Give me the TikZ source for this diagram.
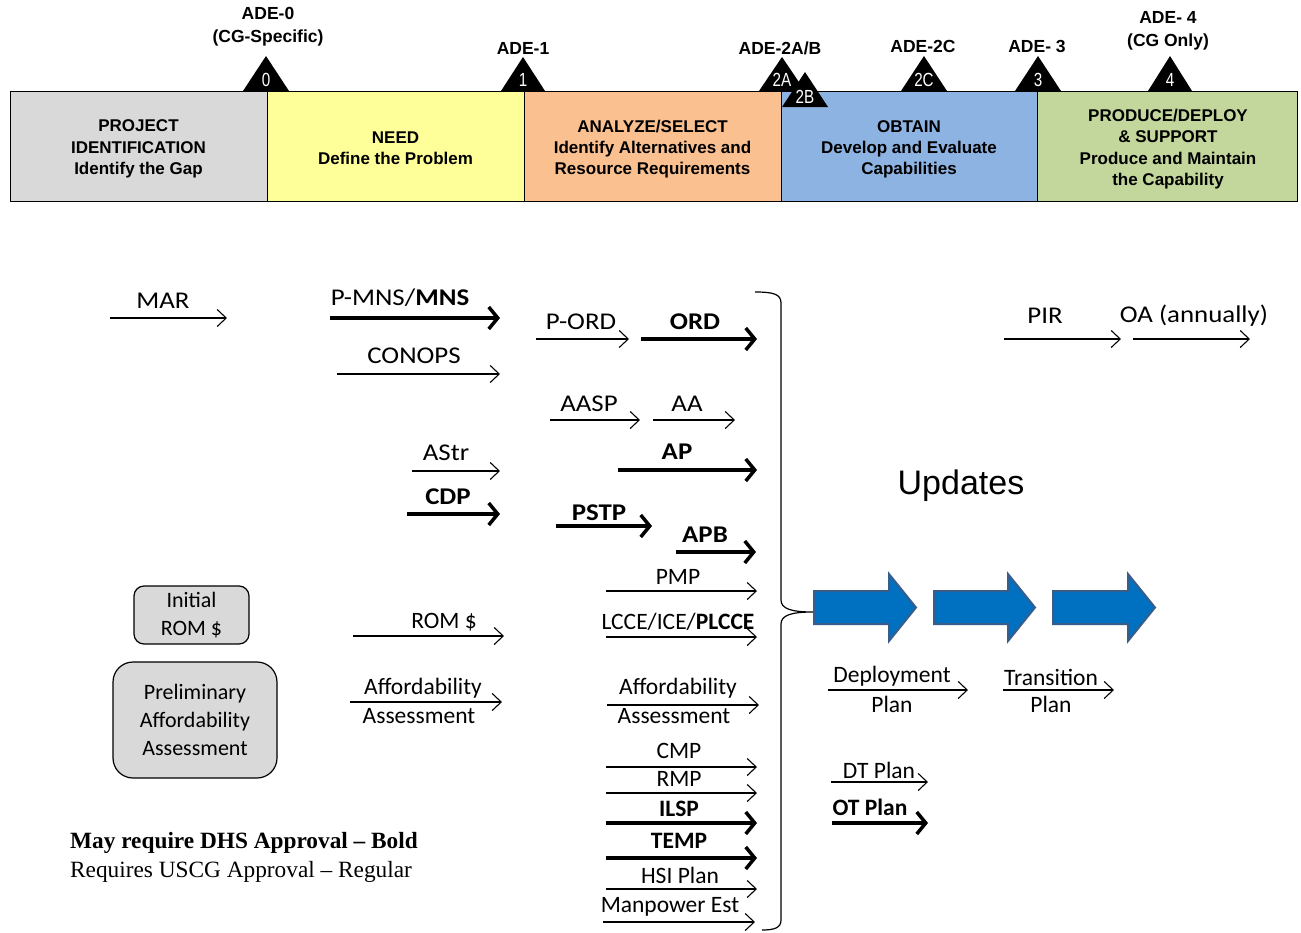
\documentclass[tikz,border=0pt]{standalone}
\usepackage{fontspec}
\setmainfont{Carlito}
\newfontfamily\hdrfont{Liberation Sans}
\newfontfamily\tagfont[FakeStretch=0.8]{Liberation Sans}
\newfontfamily\widefont[FakeStretch=1.12]{Carlito}
\newfontfamily\legendfont[Ligatures=TeX]{Liberation Serif}
\usetikzlibrary{arrows.meta}

% one horizontal flow arrow between two named end coordinates
\newcommand{\flowarrow}[5]{%
  \coordinate (#1-s) at (#3,#5);
  \coordinate (#1-e) at (#4,#5);
  \draw[#2] (#1-s) -- (#1-e);}

% black milestone triangle with a white tag
\newcommand{\milestone}[6]{%
  \coordinate (#1-top) at (#2,#3);
  \coordinate (#1-l) at (#2-#4,#5);
  \coordinate (#1-r) at (#2+#4,#5);
  \fill[black] (#1-l) -- (#1-top) -- (#1-r) -- cycle;
  \node[tagtext] (#1-tag) at (#2,#6) {#1};}

% blue block arrow
\newcommand{\blockarrow}[4]{%
  \draw[blockstyle] (#2,591) -- (#3,591) -- (#3,574) -- (#4,607.5) -- (#3,641) -- (#3,624) -- (#2,624) -- cycle;
  \coordinate (#1) at (#4,607.5);}

\begin{document}
\begin{tikzpicture}[x=1pt,y=-1pt,
  phase/.style={draw=black, line width=0.8pt, minimum height=110pt, inner sep=0pt},
  phasetext/.style={align=center, inner sep=0pt, font=\hdrfont\bfseries\fontsize{17}{21.3}\selectfont},
  adetext/.style={font=\hdrfont\bfseries\fontsize{17.5}{23}\selectfont, align=center, inner sep=0pt},
  tagtext/.style={font=\tagfont\fontsize{19}{19}\selectfont, text=white, inner sep=0pt},
  uplab/.style={font=\widefont\fontsize{24}{26}\selectfont, inner sep=0pt},
  lowlab/.style={font=\fontsize{23.5}{25}\selectfont, inner sep=0pt},
  flowthin/.style={line width=1.1pt, -{Straight Barb[length=9pt,width=17pt,line width=1.1pt]}},
  flowthick/.style={line width=4pt, -{Straight Barb[length=9pt,width=22pt,line width=3.5pt]}},
  blockstyle/.style={fill={rgb,255:red,0;green,112;blue,192}, draw={rgb,255:red,56;green,93;blue,138}, line width=2pt},
  roundbox/.style={draw=black, line width=1.2pt, fill={rgb,255:red,217;green,217;blue,217}, align=center,
    font=\fontsize{22}{28}\selectfont, inner sep=0pt}
]
\useasboundingbox[fill=white] (0,0) rectangle (1301,932);

% ---- phase bar ----
\node[phase, fill={rgb,255:red,217;green,217;blue,217}, minimum width=257pt] (p0) at (138.5,146) {};
\node[phase, fill={rgb,255:red,255;green,255;blue,153}, minimum width=257pt] (p1) at (395.5,146) {};
\node[phase, fill={rgb,255:red,250;green,192;blue,144}, minimum width=257pt] (p2) at (652.5,146) {};
\node[phase, fill={rgb,255:red,141;green,179;blue,226}, minimum width=256pt] (p3) at (909,146) {};
\node[phase, fill={rgb,255:red,195;green,214;blue,155}, minimum width=260pt] (p4) at (1167,146) {};

\node[phasetext] (t0) at (138.5,149) {PROJECT\\IDENTIFICATION\\Identify the Gap};
\node[phasetext] (t1) at (395.5,148.5) {NEED\\Define the Problem};
\node[phasetext] (t2) at (652.5,149) {ANALYZE/SELECT\\Identify Alternatives and\\Resource Requirements};
\node[phasetext] (t3) at (909,149.5) {OBTAIN\\Develop and Evaluate\\Capabilities};
\node[phasetext] (t4) at (1168,149) {PRODUCE/DEPLOY\\\& SUPPORT\\Produce and Maintain\\the Capability};

% ---- decision events ----
\milestone{0}{266}{56}{23}{91}{80}
\milestone{1}{523}{57}{22}{91}{80}
\milestone{2A}{782}{57}{23}{91}{80}
\milestone{2B}{805}{72}{23}{107}{97}
\milestone{2C}{924}{56}{23}{91}{80}
\milestone{3}{1038}{56}{23}{91}{80}
\milestone{4}{1170}{56}{22}{91}{80}

\node[adetext] (ade0) at (268,27) {ADE-0\\(CG-Specific)};
\node[adetext] (ade1) at (523,48) {ADE-1};
\node[adetext] (ade2ab) at (780,48) {ADE-2A/B};
\node[adetext] (ade2c) at (923,46) {ADE-2C};
\node[adetext] (ade3) at (1037,46) {ADE- 3};
\node[adetext] (ade4) at (1168,31) {ADE- 4\\(CG Only)};

% ---- upper products ----
\node[uplab] (lmar) at (163,301) {MAR};
\flowarrow{mar}{flowthin}{110}{227}{318}
\node[uplab] (lmns) at (400,298) {P-MNS/\textbf{MNS}};
\flowarrow{mns}{flowthick}{330}{500}{318}
\node[uplab] (lconops) at (414,356) {CONOPS};
\flowarrow{conops}{flowthin}{337}{500}{374}
\node[uplab] (lpord) at (581,322) {P-ORD};
\flowarrow{pord}{flowthin}{536}{629}{339}
\node[uplab] (lord) at (695,322) {\textbf{ORD}};
\flowarrow{ord}{flowthick}{641}{757}{339}
\node[uplab] (laasp) at (589,404) {AASP};
\flowarrow{aasp}{flowthin}{550}{640}{420}
\node[uplab] (laa) at (687,404) {AA};
\flowarrow{aa}{flowthin}{653}{735}{420}
\node[uplab] (lastr) at (446,453) {AStr};
\flowarrow{astr}{flowthin}{412}{500}{471}
\node[uplab] (lap) at (677,452) {\textbf{AP}};
\flowarrow{ap}{flowthick}{618}{757}{470}
\node[uplab] (lcdp) at (448,497) {\textbf{CDP}};
\flowarrow{cdp}{flowthick}{407}{500}{514}
\node[uplab] (lpstp) at (599,513) {\textbf{PSTP}};
\flowarrow{pstp}{flowthick}{556}{652}{526}
\node[uplab] (lapb) at (705,535) {\textbf{APB}};
\flowarrow{apb}{flowthick}{676}{756}{552}
\node[uplab] (lpir) at (1045,316) {PIR};
\flowarrow{pir}{flowthin}{1004}{1121}{339}
\node[uplab] (loa) at (1194,316) {OA (annually)};
\flowarrow{oa}{flowthin}{1133}{1250}{339}

% ---- lower products ----
\node[lowlab] (lpmp) at (678,577) {PMP};
\flowarrow{pmp}{flowthin}{606}{757}{591}
\node[lowlab] (llcce) at (678,622) {LCCE/ICE/\textbf{PLCCE}};
\flowarrow{lcce}{flowthin}{606}{757}{637}
\node[lowlab] (lrom) at (444,622) {ROM \$};
\flowarrow{rom}{flowthin}{353}{504}{636}
\node[lowlab] (laff1a) at (423,688) {Affordability};
\node[lowlab] (laff1b) at (419,716) {Assessment};
\flowarrow{aff1}{flowthin}{350}{502}{702}
\node[lowlab] (laff2a) at (678,688) {Affordability};
\node[lowlab] (laff2b) at (674,716) {Assessment};
\flowarrow{aff2}{flowthin}{607}{759}{705}
\node[lowlab] (lcmp) at (679,751) {CMP};
\flowarrow{cmp}{flowthin}{606}{757}{767}
\node[lowlab] (lrmp) at (679,779) {RMP};
\flowarrow{rmp}{flowthin}{606}{757}{793}
\node[lowlab] (lilsp) at (679,809) {\textbf{ILSP}};
\flowarrow{ilsp}{flowthick}{606}{757}{823}
\node[lowlab] (ltemp) at (679,841) {\textbf{TEMP}};
\flowarrow{temp}{flowthick}{606}{757}{858}
\node[lowlab] (lhsi) at (680,875) {HSI Plan};
\flowarrow{hsi}{flowthin}{606}{757}{889}
\node[lowlab] (lman) at (670,907) {Manpower Est};
\flowarrow{man}{flowthin}{603}{755}{922}

\node[lowlab] (ldep1) at (892,676) {Deployment};
\node[lowlab] (ldep2) at (892,704) {Plan};
\flowarrow{dep}{flowthin}{828}{968}{690}
\node[lowlab] (ltr1) at (1051,677) {Transition};
\node[lowlab] (ltr2) at (1051,704) {Plan};
\flowarrow{tr}{flowthin}{1003}{1114}{690}
\node[lowlab] (ldt) at (879,770) {DT Plan};
\flowarrow{dt}{flowthin}{831}{928}{782}
\node[lowlab] (lot) at (870,807) {\textbf{OT Plan}};
\flowarrow{ot}{flowthick}{832}{928}{823}

% ---- brace gathering the products ----
\coordinate (brtop) at (755,292);
\coordinate (brtip) at (813,612);
\coordinate (brbot) at (762,930);
\draw[line width=1.2pt] (brtop) .. controls (773,292) and (781,294) .. (781,303)
  -- (781,600) .. controls (781,609) and (792,612) .. (brtip)
  .. controls (792,612) and (781,615) .. (781,624)
  -- (781,920) .. controls (781,928) and (774,930) .. (brbot);

% ---- updates ----
\node[font=\hdrfont\fontsize{34}{36}\selectfont, inner sep=0pt] (upd) at (961,486) {Updates};
\blockarrow{ua1}{814}{889}{916}
\blockarrow{ua2}{934}{1008}{1035}
\blockarrow{ua3}{1053}{1128}{1155}

% ---- early estimates ----
\node[roundbox, rounded corners=10pt, minimum width=115pt, minimum height=58pt] (irom) at (191.5,615) {Initial\\ROM \$};
\node[roundbox, rounded corners=20pt, minimum width=164pt, minimum height=116pt] (paa) at (195,720) {Preliminary\\Affordability\\Assessment};

% ---- legend ----
\node[anchor=west, inner sep=0pt, font=\legendfont\bfseries\fontsize{23.3}{25}\selectfont] (leg1) at (70,843) {May require DHS Approval \textendash{} Bold};
\node[anchor=west, inner sep=0pt, font=\legendfont\fontsize{23.3}{25}\selectfont] (leg2) at (70,872) {Requires USCG Approval \textendash{} Regular};
\end{tikzpicture}
\end{document}
